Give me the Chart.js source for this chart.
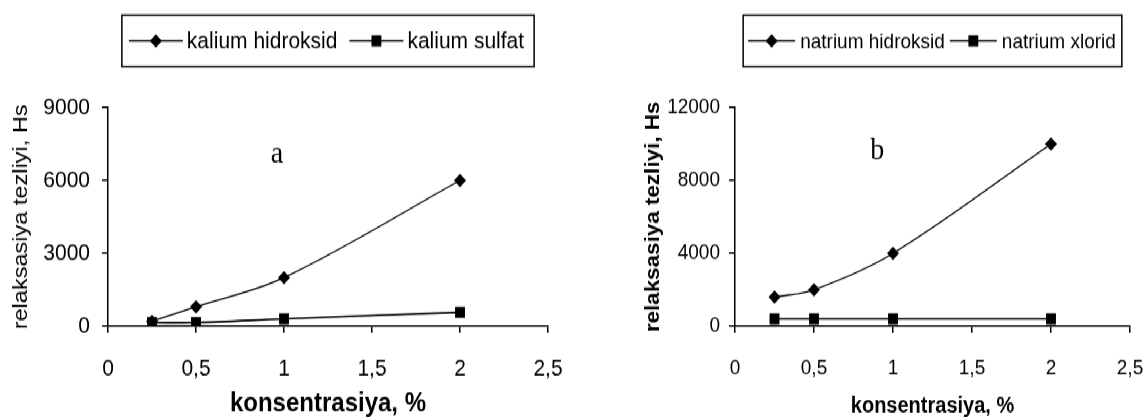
<!DOCTYPE html>
<html>
<head>
<meta charset="utf-8">
<script src="https://cdn.jsdelivr.net/npm/chart.js@4/dist/chart.umd.min.js"></script>
<style>
  html, body { margin: 0; padding: 0; background: #fff; overflow: hidden; }
  #stage { position: absolute; left: 0; top: 0; width: 1145px; height: 372px; transform: scaleY(1.121); transform-origin: 0 0; }
  #stage canvas { position: absolute; top: 0; }
</style>
</head>
<body>
<div id="stage">
  <canvas id="chartA" width="572" height="372" style="left:0"></canvas>
  <canvas id="chartB" width="573" height="372" style="left:572px"></canvas>
</div>
<script>
// concentration, %
const concentration = [0.25, 0.5, 1, 2];

// relaxation rate, Hs
const kaliumHidroksid = [200, 800, 2000, 6000];
const kaliumSulfat = [150, 150, 300, 570];
const natriumHidroksid = [1600, 2000, 4000, 10000];
const natriumXlorid = [400, 400, 400, 400];

const xTicks = [0, 0.5, 1, 1.5, 2, 2.5];
const yTicksA = [0, 3000, 6000, 9000];
const yTicksB = [0, 4000, 8000, 12000];

const FONT = '"Liberation Sans", Arial, sans-serif';
Chart.defaults.font.family = FONT;
Chart.defaults.color = '#000';

const toPoints = (xs, ys) => xs.map((x, i) => ({ x: x, y: ys[i] }));

// legend in a framed box, centred over the plot area
const boxLegend = {
    id: 'boxLegend',
    afterDraw(chart, args, o) {
        const { ctx, chartArea } = chart;
        const sets = chart.data.datasets;
        ctx.save();
        ctx.font = o.size + 'px ' + FONT;
        const widths = sets.map(d => ctx.measureText(d.label).width);
        let total = o.padL + o.padR;
        widths.forEach((w, i) => {
            total += o.line + o.gap + w;
            if (i) total += o.sep;
        });
        let x = (chartArea.left + chartArea.right) / 2 - total / 2;
        ctx.strokeStyle = '#000';
        ctx.lineWidth = 1.5;
        ctx.strokeRect(x, o.top, total, o.height);
        const y = o.top + o.height / 2;
        x += o.padL;
        sets.forEach((d, i) => {
            if (i) x += o.sep;
            ctx.beginPath();
            ctx.lineWidth = 1.3;
            ctx.moveTo(x, y);
            ctx.lineTo(x + o.line, y);
            ctx.stroke();
            ctx.fillStyle = '#000';
            Chart.helpers.drawPoint(ctx, { pointStyle: d.pointStyle, radius: d.pointRadius, rotation: 0, borderWidth: 0 }, x + o.line / 2, y);
            x += o.line + o.gap;
            ctx.textAlign = 'left';
            ctx.textBaseline = 'middle';
            ctx.fillText(d.label, x, y + 1);
            x += widths[i];
        });
        ctx.restore();
    }
};

// panel letter (a / b) placed in data coordinates
const letterTag = {
    id: 'letterTag',
    afterDraw(chart, args, o) {
        const { ctx, scales } = chart;
        ctx.save();
        ctx.font = o.size + 'px "Liberation Serif", "Times New Roman", serif';
        ctx.fillStyle = '#000';
        ctx.textAlign = 'center';
        ctx.textBaseline = 'alphabetic';
        ctx.fillText(o.text, scales.x.getPixelForValue(o.x), scales.y.getPixelForValue(o.y));
        ctx.restore();
    }
};

const axisGrid = { drawOnChartArea: false, drawTicks: true, tickLength: 6, color: '#000', lineWidth: 1.5 };
const axisBorder = { display: true, color: '#000', width: 1.5 };

// keep the plot box where the layout padding puts it
const noOverflow = s => {
    s.paddingLeft = 0;
    s.paddingRight = 0;
    s.paddingTop = 0;
    s.paddingBottom = 0;
};

const buildChart = (id, o) => {
    return new Chart(document.getElementById(id), {
        type: 'line',
        data: {
            datasets: [{
                label: o.labels[0],
                data: toPoints(concentration, o.series[0]),
                borderColor: '#000',
                backgroundColor: '#000',
                borderWidth: 1.3,
                pointStyle: 'rectRot',
                pointRadius: 6,
                pointBorderWidth: 0,
                tension: 0.35,
                fill: false,
            }, {
                label: o.labels[1],
                data: toPoints(concentration, o.series[1]),
                borderColor: '#000',
                backgroundColor: '#000',
                borderWidth: 1.6,
                pointStyle: 'rect',
                pointRadius: 7,
                pointBorderWidth: 0,
                tension: 0.35,
                fill: false,
            }]
        },
        options: {
            responsive: false,
            animation: false,
            devicePixelRatio: 1,
            layout: { padding: { left: o.padLeft, right: o.padRight, top: 96, bottom: 0 } },
            plugins: {
                legend: { display: false },
                tooltip: { enabled: false },
                boxLegend: o.legend,
                letterTag: o.tag,
            },
            scales: {
                x: {
                    type: 'linear',
                    min: 0,
                    max: 2.5,
                    afterBuildTicks: s => { s.ticks = xTicks.map(v => ({ value: v })); },
                    afterFit: s => { s.height = 81; noOverflow(s); },
                    grid: axisGrid,
                    border: axisBorder,
                    ticks: {
                        font: { size: o.tickSize },
                        padding: 20,
                        maxRotation: 0,
                        callback: v => String(v).replace('.', ','),
                    },
                    title: {
                        display: true,
                        text: 'konsentrasiya, %',
                        font: { size: o.xTitleSize, weight: 'bold', lineHeight: 1 },
                        padding: 0,
                    },
                },
                y: {
                    min: 0,
                    max: o.yTicks[o.yTicks.length - 1],
                    afterBuildTicks: s => { s.ticks = o.yTicks.map(v => ({ value: v })); },
                    afterFit: s => { s.width = o.yWidth; noOverflow(s); },
                    grid: axisGrid,
                    border: axisBorder,
                    ticks: {
                        font: { size: o.tickSize },
                        padding: o.yTickPad,
                        callback: v => String(v),
                    },
                    title: {
                        display: true,
                        text: 'relaksasiya tezliyi, Hs',
                        font: { size: o.yTitleSize, weight: o.yTitleWeight },
                        padding: { top: o.yTitlePad, bottom: 0 },
                    },
                }
            }
        },
        plugins: [boxLegend, letterTag]
    });
};

buildChart('chartA', {
    labels: ['kalium hidroksid', 'kalium sulfat'],
    series: [kaliumHidroksid, kaliumSulfat],
    yTicks: yTicksA,
    padLeft: 0, padRight: 24, yWidth: 108, yTickPad: 12,
    tickSize: 21, xTitleSize: 24, yTitleSize: 21, yTitleWeight: 'normal', yTitlePad: 9,
    legend: { size: 21, top: 13.5, height: 46, padL: 7, line: 54, gap: 4, sep: 12, padR: 10 },
    tag: { text: 'a', x: 0.96, y: 6750, size: 28 },
});

buildChart('chartB', {
    labels: ['natrium hidroksid', 'natrium xlorid'],
    series: [natriumHidroksid, natriumXlorid],
    yTicks: yTicksB,
    padLeft: 69, padRight: 15, yWidth: 94, yTickPad: 9,
    tickSize: 19, xTitleSize: 20, yTitleSize: 20, yTitleWeight: 'bold', yTitlePad: 0,
    legend: { size: 19, top: 13.5, height: 46, padL: 5, line: 47, gap: 5, sep: 5, padR: 6 },
    tag: { text: 'b', x: 0.9, y: 9150, size: 28 },
});
</script>
</body>
</html>
